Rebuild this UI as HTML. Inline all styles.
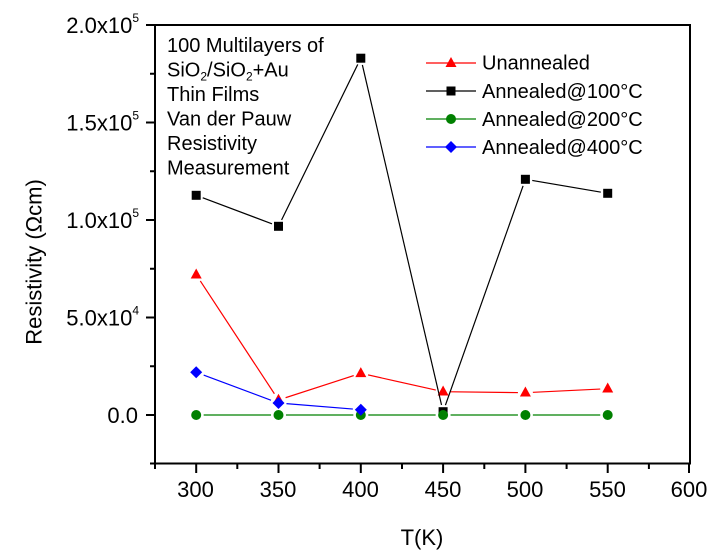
<!DOCTYPE html>
<html><head><meta charset="utf-8"><style>
html,body{margin:0;padding:0;background:#fff;}
svg{display:block;font-family:"Liberation Sans",Arial,sans-serif;}
</style></head><body>
<svg width="717" height="556" viewBox="0 0 717 556" xmlns="http://www.w3.org/2000/svg">
<defs>
<mask id="mr" maskUnits="userSpaceOnUse" x="0" y="0" width="717" height="556">
<rect width="717" height="556" fill="#fff"/>
<g fill="#000"><circle cx="196.2" cy="274.7" r="7.5"/><circle cx="278.5" cy="400" r="7.5"/><circle cx="360.8" cy="373.3" r="7.5"/><circle cx="443.1" cy="391.7" r="7.5"/><circle cx="525.4" cy="392.7" r="7.5"/><circle cx="607.7" cy="388.7" r="7.5"/></g>
</mask>
<mask id="mk" maskUnits="userSpaceOnUse" x="0" y="0" width="717" height="556">
<rect width="717" height="556" fill="#fff"/>
<g fill="#000"><circle cx="196.2" cy="195.3" r="7"/><circle cx="278.5" cy="226.3" r="7"/><circle cx="360.8" cy="58.2" r="7"/><circle cx="443.1" cy="411.7" r="7"/><circle cx="525.4" cy="179.3" r="7"/><circle cx="607.7" cy="193.3" r="7"/></g>
</mask>
<mask id="mg" maskUnits="userSpaceOnUse" x="0" y="0" width="717" height="556">
<rect width="717" height="556" fill="#fff"/>
<g fill="#000"><circle cx="196.2" cy="415" r="7.5"/><circle cx="278.5" cy="415" r="7.5"/><circle cx="360.8" cy="415" r="7.5"/><circle cx="443.1" cy="415" r="7.5"/><circle cx="525.4" cy="415" r="7.5"/><circle cx="607.7" cy="415" r="7.5"/></g>
</mask>
<mask id="mb" maskUnits="userSpaceOnUse" x="0" y="0" width="717" height="556">
<rect width="717" height="556" fill="#fff"/>
<g fill="#000"><circle cx="196.2" cy="372.3" r="8"/><circle cx="278.5" cy="403" r="8"/><circle cx="360.8" cy="409.7" r="8"/></g>
</mask>
</defs>
<rect width="717" height="556" fill="#fff"/>
<!-- frame -->
<rect x="155" y="25" width="535" height="438.5" fill="none" stroke="#000" stroke-width="2"/>
<!-- y ticks -->
<g stroke="#000" stroke-width="2">
<line x1="146" y1="25" x2="155" y2="25"/>
<line x1="146" y1="122.5" x2="155" y2="122.5"/>
<line x1="146" y1="220" x2="155" y2="220"/>
<line x1="146" y1="317.5" x2="155" y2="317.5"/>
<line x1="146" y1="415" x2="155" y2="415"/>
<line x1="150" y1="73.75" x2="155" y2="73.75"/>
<line x1="150" y1="171.25" x2="155" y2="171.25"/>
<line x1="150" y1="268.75" x2="155" y2="268.75"/>
<line x1="150" y1="366.25" x2="155" y2="366.25"/>
<line x1="150" y1="463.5" x2="155" y2="463.5"/>
</g>
<!-- x ticks -->
<g stroke="#000" stroke-width="2">
<line x1="196.2" y1="463.5" x2="196.2" y2="473"/>
<line x1="278.5" y1="463.5" x2="278.5" y2="473"/>
<line x1="360.8" y1="463.5" x2="360.8" y2="473"/>
<line x1="443.1" y1="463.5" x2="443.1" y2="473"/>
<line x1="525.4" y1="463.5" x2="525.4" y2="473"/>
<line x1="607.7" y1="463.5" x2="607.7" y2="473"/>
<line x1="689" y1="463.5" x2="689" y2="473"/>
<line x1="155" y1="463.5" x2="155" y2="469"/>
<line x1="237.3" y1="463.5" x2="237.3" y2="469"/>
<line x1="319.6" y1="463.5" x2="319.6" y2="469"/>
<line x1="402" y1="463.5" x2="402" y2="469"/>
<line x1="484.3" y1="463.5" x2="484.3" y2="469"/>
<line x1="566.6" y1="463.5" x2="566.6" y2="469"/>
<line x1="648.9" y1="463.5" x2="648.9" y2="469"/>
</g>
<!-- x tick labels -->
<g font-size="22" text-anchor="middle" fill="#000">
<text x="195.5" y="497">300</text>
<text x="278" y="497">350</text>
<text x="360.5" y="497">400</text>
<text x="443" y="497">450</text>
<text x="525" y="497">500</text>
<text x="607.5" y="497">550</text>
<text x="689" y="497">600</text>
</g>
<!-- y tick labels -->
<g font-size="22" text-anchor="end" fill="#000">
<text x="139" y="33">2.0x10<tspan font-size="12" dy="-11">5</tspan></text>
<text x="139" y="130.5">1.5x10<tspan font-size="12" dy="-11">5</tspan></text>
<text x="139" y="228">1.0x10<tspan font-size="12" dy="-11">5</tspan></text>
<text x="139" y="325.5">5.0x10<tspan font-size="12" dy="-11">4</tspan></text>
<text x="138" y="423">0.0</text>
</g>
<!-- axis titles -->
<text x="422" y="545" font-size="22" text-anchor="middle">T(K)</text>
<text transform="translate(41.5,262) rotate(-90)" font-size="22" text-anchor="middle">Resistivity (Ωcm)</text>
<!-- annotation -->
<g font-size="20" fill="#000">
<text x="167" y="52">100 Multilayers of</text>
<text x="167" y="76.5">SiO<tspan font-size="12" dy="4">2</tspan><tspan dy="-4">/SiO</tspan><tspan font-size="12" dy="4">2</tspan><tspan dy="-4">+Au</tspan></text>
<text x="167" y="101">Thin Films</text>
<text x="167" y="125.5">Van der Pauw</text>
<text x="167" y="150">Resistivity</text>
<text x="167" y="174.5">Measurement</text>
</g>
<!-- series: red -->
<polyline mask="url(#mr)" fill="none" stroke="#ff0000" stroke-width="1.2" points="196.2,274.7 278.5,400 360.8,373.3 443.1,391.7 525.4,392.7 607.7,388.7"/>
<g fill="#ff0000">
<polygon points="196.2,268.5 201.7,278.5 190.7,278.5"/>
<polygon points="278.5,393.8 284,403.8 273,403.8"/>
<polygon points="360.8,367.1 366.3,377.1 355.3,377.1"/>
<polygon points="443.1,385.5 448.6,395.5 437.6,395.5"/>
<polygon points="525.4,386.5 530.9,396.5 519.9,396.5"/>
<polygon points="607.7,382.5 613.2,392.5 602.2,392.5"/>
</g>
<!-- series: black -->
<polyline mask="url(#mk)" fill="none" stroke="#000" stroke-width="1.2" points="196.2,195.3 278.5,226.3 360.8,58.2 443.1,411.7 525.4,179.3 607.7,193.3"/>
<g fill="#000">
<rect x="191.7" y="190.8" width="9" height="9"/>
<rect x="274" y="221.8" width="9" height="9"/>
<rect x="356.3" y="53.7" width="9" height="9"/>
<rect x="438.6" y="407.2" width="9" height="9"/>
<rect x="520.9" y="174.8" width="9" height="9"/>
<rect x="603.2" y="188.8" width="9" height="9"/>
</g>
<!-- series: green -->
<line mask="url(#mg)" x1="196.2" y1="415" x2="607.7" y2="415" stroke="#008000" stroke-width="1.2"/>
<g fill="#008000">
<circle cx="196.2" cy="415" r="5"/>
<circle cx="278.5" cy="415" r="5"/>
<circle cx="360.8" cy="415" r="5"/>
<circle cx="443.1" cy="415" r="5"/>
<circle cx="525.4" cy="415" r="5"/>
<circle cx="607.7" cy="415" r="5"/>
</g>
<!-- series: blue -->
<polyline mask="url(#mb)" fill="none" stroke="#0000ff" stroke-width="1.2" points="196.2,372.3 278.5,403 360.8,409.7"/>
<g fill="#0000ff">
<polygon points="196.2,366.3 202.2,372.3 196.2,378.3 190.2,372.3"/>
<polygon points="278.5,397 284.5,403 278.5,409 272.5,403"/>
<polygon points="360.8,403.7 366.8,409.7 360.8,415.7 354.8,409.7"/>
</g>
<!-- legend -->
<g stroke-width="1.2">
<line x1="426" y1="63" x2="476" y2="63" stroke="#ff0000"/>
<line x1="426" y1="91" x2="476" y2="91" stroke="#000"/>
<line x1="426" y1="119" x2="476" y2="119" stroke="#008000"/>
<line x1="426" y1="147" x2="476" y2="147" stroke="#0000ff"/>
</g>
<polygon points="451,57 456.5,67 445.5,67" fill="#ff0000"/>
<rect x="446.5" y="86.5" width="9" height="9" fill="#000"/>
<circle cx="451" cy="119" r="5" fill="#008000"/>
<polygon points="451,141 457,147 451,153 445,147" fill="#0000ff"/>
<g font-size="20" fill="#000">
<text x="482" y="69.5">Unannealed</text>
<text x="482" y="98">Annealed@100°C</text>
<text x="482" y="126">Annealed@200°C</text>
<text x="482" y="154">Annealed@400°C</text>
</g>
</svg>
</body></html>
